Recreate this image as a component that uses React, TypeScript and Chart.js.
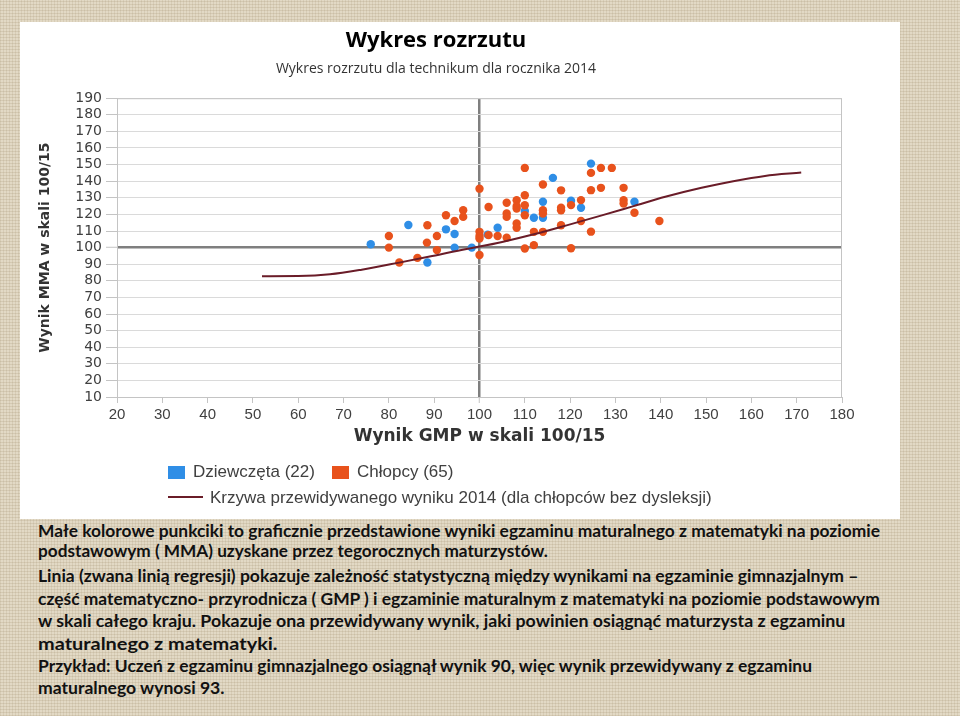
import React, { useEffect, useLayoutEffect, useRef } from 'react';
import { Chart, registerables } from 'chart.js';

Chart.register(...registerables);

// ---- data ----
const girlsX = [76, 84.3, 88.5, 92.6, 94.5, 94.5, 98.3, 101.8, 104, 110, 112, 114, 114, 116.2, 120.2, 122.4, 124.6, 134.2];
const girlsY = [102, 113.6, 91, 111, 108.2, 100, 100, 107.8, 112, 122, 118, 127.6, 118, 142, 128.2, 124, 150.6, 127.6];

const boysX = [80, 80, 82.3, 86.3, 88.5, 88.4, 90.6, 90.6, 92.6, 94.5, 96.4, 96.4, 100, 100, 100, 100, 100, 102, 102, 104,
  106, 106, 106, 106, 108.2, 108.2, 108.2, 108.2, 108.2, 110, 110, 110, 110, 110, 112, 112, 114, 114, 114, 114,
  118, 118, 118, 118, 120.2, 120.2, 122.4, 122.4, 124.6, 124.6, 124.6, 126.8, 126.8, 129.2, 131.8, 131.8, 131.8, 134.2, 139.7];
const boysY = [107, 100, 91, 93.8, 113.5, 103, 107, 98.5, 119.5, 116, 122.5, 118.5, 135.5, 109.5, 107, 105.5, 95.5, 124.5, 107.5, 107,
  127, 120.5, 118.5, 106, 128.5, 125, 123.5, 114.5, 112, 148, 131.5, 125.5, 119.5, 99.5, 109.5, 101.5, 138, 122.5, 120.5, 109.5,
  134.5, 124, 122.5, 113.5, 125.6, 99.6, 128.6, 116, 145, 134.6, 109.6, 148, 136, 148, 136, 128.6, 126.6, 121, 116];

const curveX = [52, 60, 67, 74, 82, 89, 96, 100, 105, 112, 120, 127, 134, 141, 149, 156, 163, 171];
const curveY = [82.8, 82.9, 83.9, 86.7, 90.8, 94.6, 98.6, 100.6, 103.4, 108, 114, 119.4, 125, 130.6, 136, 140, 143.2, 145.2];

const xMin = 20, xMax = 180, xStep = 10;
const yMin = 10, yMax = 190, yStep = 10;

const chartTitle = 'Wykres rozrzutu';
const chartSubtitle = 'Wykres rozrzutu dla technikum dla rocznika 2014';
const xTitle = 'Wynik GMP w skali 100/15';
const yTitle = 'Wynik MMA w skali 100/15';
const girlsLabel = 'Dziewczęta (22)';
const boysLabel = 'Chłopcy (65)';
const curveLabel = 'Krzywa przewidywanego wyniku 2014 (dla chłopców bez dysleksji)';

const captionLines = [
  'Małe kolorowe punkciki to graficznie przedstawione wyniki egzaminu maturalnego z matematyki na poziomie',
  'podstawowym ( MMA) uzyskane przez tegorocznych maturzystów.',
  'Linia (zwana linią regresji) pokazuje zależność statystyczną między wynikami na egzaminie gimnazjalnym –',
  'część matematyczno- przyrodnicza ( GMP ) i egzaminie maturalnym z matematyki na poziomie podstawowym',
  'w skali całego kraju. Pokazuje ona przewidywany wynik, jaki powinien osiągnąć maturzysta z egzaminu',
  'maturalnego z matematyki.',
  'Przykład: Uczeń z egzaminu gimnazjalnego osiągnął wynik 90, więc wynik przewidywany z egzaminu',
  'maturalnego wynosi 93.',
];
// layout of caption lines: [center y, right edge x]
const captionLayout: [number, number][] = [
  [531, 880], [551, 548], [576, 858], [599, 880], [621, 845], [644, 278], [666, 812], [688, 224],
];

const BLUE = '#2f8ee6';
const ORANGE = '#e8521c';
const CURVE = '#6a1c28';

const frame = {
  id: 'frame',
  afterDraw(chart: any) {
    const { ctx, chartArea } = chart;
    ctx.save();
    ctx.strokeStyle = '#c4c4c4';
    ctx.lineWidth = 1;
    ctx.strokeRect(chartArea.left + 0.5, chartArea.top + 0.5, chartArea.right - chartArea.left - 1, chartArea.bottom - chartArea.top);
    ctx.restore();
  },
};

function CaptionLine({ text, y, right }: { text: string; y: number; right: number }) {
  const ref = useRef<HTMLSpanElement>(null);
  useLayoutEffect(() => {
    const el = ref.current;
    if (!el) return;
    const w = el.offsetWidth;
    const target = right - 38;
    el.style.transform = `scaleX(${target / w})`;
  }, [text, right]);
  return (
    <div style={{ position: 'absolute', left: 38, top: y - 11, height: 22, lineHeight: '22px', whiteSpace: 'nowrap' }}>
      <span ref={ref} style={{ display: 'inline-block', transformOrigin: 'left center', fontFamily: 'Lato, sans-serif', fontWeight: 700, fontSize: 17, color: '#111' }}>
        {text}
      </span>
    </div>
  );
}

export default function App() {
  const canvasRef = useRef<HTMLCanvasElement>(null);

  useEffect(() => {
    const canvas = canvasRef.current;
    if (!canvas) return;
    const girls = girlsX.map((x, i) => ({ x, y: girlsY[i] }));
    const boys = boysX.map((x, i) => ({ x, y: boysY[i] }));
    const curve = curveX.map((x, i) => ({ x, y: curveY[i] }));

    const chart = new Chart(canvas, {
      type: 'scatter',
      data: {
        datasets: [
          { label: curveLabel, data: curve, showLine: true, borderColor: CURVE, borderWidth: 2, pointRadius: 0, tension: 0, cubicInterpolationMode: 'monotone', order: 0 } as any,
          { label: boysLabel, data: boys, backgroundColor: ORANGE, borderWidth: 0, pointRadius: 4.2, order: 1 },
          { label: girlsLabel, data: girls, backgroundColor: BLUE, borderWidth: 0, pointRadius: 4.2, order: 2 },
        ],
      },
      options: {
        animation: false,
        responsive: false,
        maintainAspectRatio: false,
        layout: { padding: { left: 10, right: 58, top: 0, bottom: 72 } },
        plugins: {
          legend: { display: false },
          tooltip: { enabled: false },
          title: {
            display: true,
            text: chartTitle,
            color: '#000',
            font: { family: 'Open Sans', size: 22, weight: 'bold' },
            padding: { top: 6, bottom: 6 },
          },
          subtitle: {
            display: true,
            text: chartSubtitle,
            color: '#333',
            font: { family: 'Open Sans', size: 14 },
            padding: { top: 0, bottom: 21 },
          },
        },
        scales: {
          x: {
            type: 'linear',
            min: xMin,
            max: xMax,
            ticks: { stepSize: xStep, autoSkip: false, color: '#404040', font: { family: 'Liberation Sans', size: 15 }, padding: 3, maxRotation: 0 },
            grid: {
              drawOnChartArea: true,
              color: (c: any) => (c.tick && c.tick.value === 100 ? '#7f7f7f' : 'rgba(0,0,0,0)'),
              lineWidth: (c: any) => (c.tick && c.tick.value === 100 ? 2.5 : 1),
              tickColor: '#c4c4c4',
              tickWidth: 1,
              tickLength: 6,
            },
            border: { display: true, color: '#c4c4c4', width: 1 },
            title: { display: true, text: xTitle, color: '#333', font: { family: 'DejaVu Sans', size: 17, weight: 'bold' }, padding: { top: 0, bottom: 0 } },
            afterFit: (s: any) => { s.height = 50; },
          },
          y: {
            type: 'linear',
            min: yMin,
            max: yMax,
            ticks: { stepSize: yStep, autoSkip: false, color: '#404040', font: { family: 'DejaVu Sans', size: 14 }, padding: 4 },
            grid: {
              color: (c: any) => (c.tick && c.tick.value === 100 ? '#7f7f7f' : '#dadada'),
              lineWidth: (c: any) => (c.tick && c.tick.value === 100 ? 2.5 : 1),
              tickColor: '#c4c4c4',
              tickWidth: 1,
              tickLength: 11,
            },
            border: { display: true, color: '#c4c4c4', width: 1 },
            title: { display: true, text: yTitle, color: '#333', font: { family: 'DejaVu Sans', size: 14, weight: 'bold' }, padding: { top: 7, bottom: 0 } },
            afterFit: (s: any) => { s.width = 87; },
          },
        },
      },
      plugins: [frame],
    });
    return () => chart.destroy();
  }, []);

  const texture =
    'repeating-linear-gradient(0deg, rgba(150,130,95,0.18) 0px, rgba(150,130,95,0.18) 1px, rgba(255,255,255,0) 1px, rgba(255,255,255,0) 3px),' +
    'repeating-linear-gradient(90deg, rgba(150,130,95,0.15) 0px, rgba(150,130,95,0.15) 1px, rgba(255,255,255,0) 1px, rgba(255,255,255,0) 3px)';

  const legendText = { fontFamily: 'Liberation Sans, Arial, sans-serif', fontSize: 17, lineHeight: '20px', color: '#404040', whiteSpace: 'nowrap' as const };

  return (
    <div style={{ position: 'absolute', left: 0, top: 0, width: 960, height: 716, overflow: 'hidden', backgroundColor: '#e2d9c5', backgroundImage: texture }}>
      <div style={{ position: 'absolute', left: 20, top: 22, width: 880, height: 497, background: '#fff' }}>
        <canvas ref={canvasRef} width={880} height={497} style={{ width: 880, height: 497, display: 'block' }} />
      </div>
      {/* legend */}
      <div style={{ position: 'absolute', left: 168, top: 466, width: 17, height: 13, background: BLUE }} />
      <div style={{ position: 'absolute', left: 193, top: 462, ...legendText }}>{girlsLabel}</div>
      <div style={{ position: 'absolute', left: 332, top: 466, width: 17, height: 13, background: ORANGE }} />
      <div style={{ position: 'absolute', left: 357, top: 462, ...legendText }}>{boysLabel}</div>
      <div style={{ position: 'absolute', left: 168, top: 496, width: 35, height: 2, background: CURVE }} />
      <div style={{ position: 'absolute', left: 210, top: 488, ...legendText }}>{curveLabel}</div>
      {captionLines.map((t, i) => (
        <CaptionLine key={i} text={t} y={captionLayout[i][0]} right={captionLayout[i][1]} />
      ))}
    </div>
  );
}
